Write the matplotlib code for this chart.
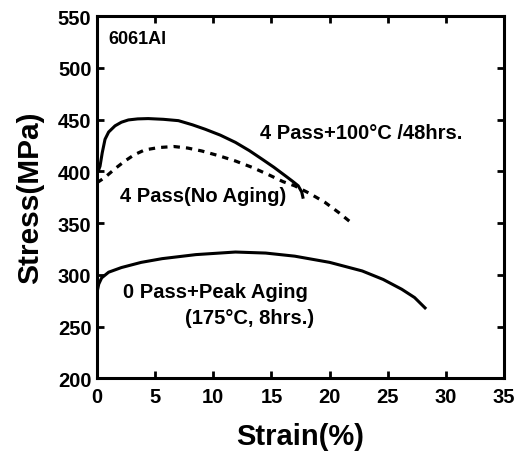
import matplotlib
matplotlib.use('Agg')
import matplotlib.pyplot as plt

plt.rcParams['font.family'] = ['Liberation Sans', 'DejaVu Sans']
plt.rcParams['font.weight'] = 'bold'

# 4 Pass + 100C / 48hrs (solid)
strain_aged = [0.0, 0.1, 0.26, 0.45, 0.69, 1.0, 1.55, 2.1, 2.7, 3.5, 4.4, 5.7, 7.0, 8.2, 9.3,
               10.6, 11.9, 13.1, 14.2, 15.2, 16.2, 16.8, 17.3, 17.6, 17.7]
stress_aged = [398, 400, 405, 418, 431, 438, 444, 447.5, 449.7, 450.7, 451, 450.3, 449, 445, 440.7,
               435, 428, 420, 411.7, 404, 395.6, 390.5, 386, 380, 375]

# 4 Pass (No Aging) (dashed)
strain_noage = [0.0, 0.4, 0.83, 1.6, 2.4, 3.2, 4.1, 5.3, 6.6, 7.8, 9.0, 10.5, 11.9, 13.3, 14.7,
                16.0, 17.0, 18.3, 19.6, 20.8, 22.0]
stress_noage = [389, 392, 395.6, 403, 410, 416, 420.7, 423, 424, 422.5, 419.7, 415, 410, 404, 397,
                390, 386, 378.5, 370, 360, 349]

# 0 Pass + Peak Aging (solid)
strain_peak = [0.0, 0.15, 0.4, 1.0, 2.1, 3.8, 5.6, 8.5, 11.9, 14.5, 17.0, 20.0, 22.8, 24.6, 26.2,
               27.3, 28.2]
stress_peak = [283, 291, 297, 302.5, 307, 312, 315.6, 319.5, 322, 321, 318, 312, 303.7, 295.5, 286,
               278, 268]

fig = plt.figure(figsize=(5.16, 4.52), dpi=100)
ax = fig.add_axes([0.188, 0.161, 0.789, 0.801])

ax.plot(strain_aged, stress_aged, color='black', lw=2.2)
ax.plot(strain_noage, stress_noage, color='black', lw=2.3, linestyle=(0, (2.0, 1.9)))
ax.plot(strain_peak, stress_peak, color='black', lw=2.2)

ax.set_xlim(0, 35)
ax.set_ylim(200, 550)
ax.set_xticks(range(0, 36, 5))
ax.set_yticks(range(200, 551, 50))
ax.tick_params(direction='in', top=True, right=True, width=2, length=5, labelsize=14.5)
ax.tick_params(axis='x', pad=6)
ax.tick_params(axis='y', pad=4)
for s in ax.spines.values():
    s.set_linewidth(2.2)

ax.set_xlabel('Strain(%)', fontsize=21, fontweight='bold', labelpad=12)
ax.set_ylabel('Stress(MPa)', fontsize=21.5, fontweight='bold', labelpad=10)

ax.text(1.0, 528.5, '6061Al', fontsize=13, fontweight='bold', va='center')
ax.text(14.0, 438, '4 Pass+100\u00b0C /48hrs.', fontsize=14.5, fontweight='bold', va='center')
ax.text(2.0, 377, '4 Pass(No Aging)', fontsize=14.5, fontweight='bold', va='center')
ax.text(2.2, 284, '0 Pass+Peak Aging', fontsize=14.5, fontweight='bold', va='center')
ax.text(7.6, 259, '(175\u00b0C, 8hrs.)', fontsize=14.5, fontweight='bold', va='center')

fig.savefig('out.png', dpi=100)
